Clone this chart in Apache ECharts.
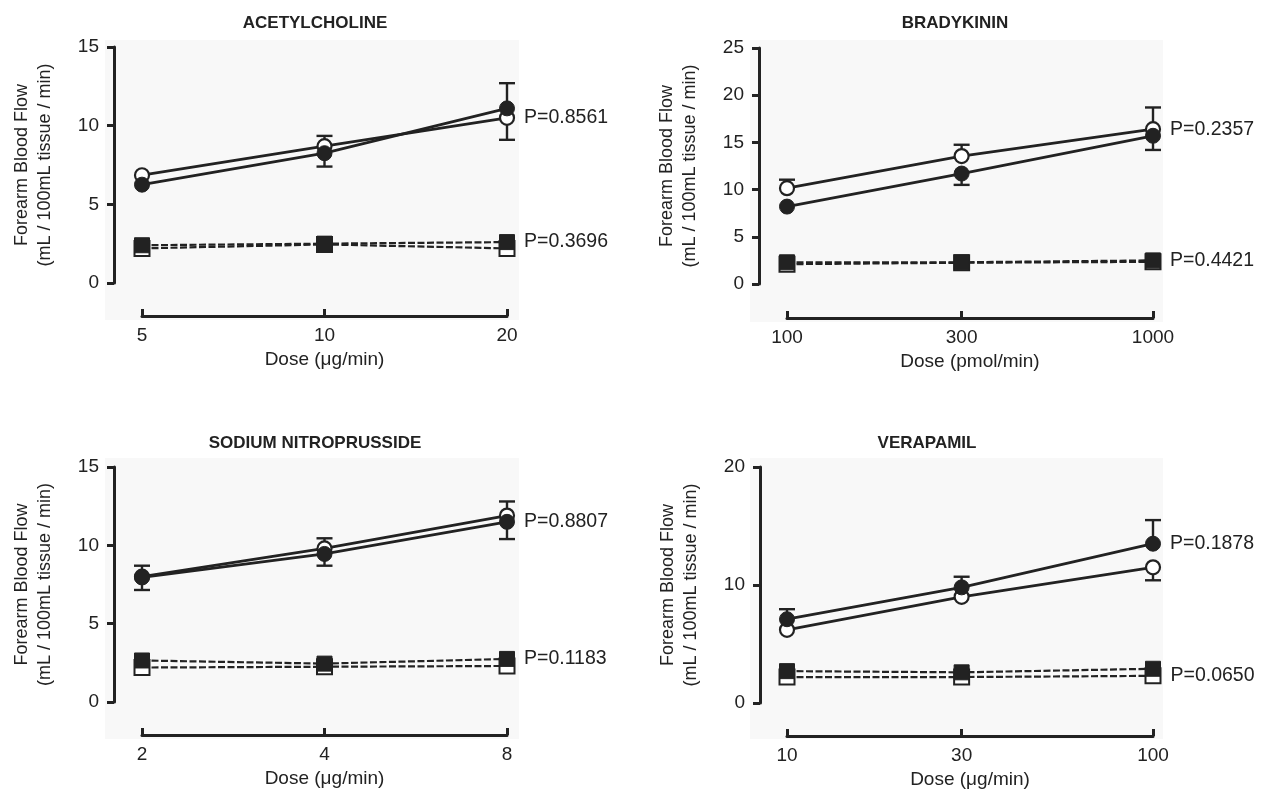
<!DOCTYPE html>
<html><head><meta charset="utf-8">
<script src="https://cdn.jsdelivr.net/npm/echarts@6/dist/echarts.min.js"></script>
<style>html,body{margin:0;padding:0;background:#fff}#c{width:1268px;height:801px}</style>
</head><body><div id="c"></div>
<script>
// ---------- DATA ----------
const titles = ['ACETYLCHOLINE', 'BRADYKININ', 'SODIUM NITROPRUSSIDE', 'VERAPAMIL'];
const xNames = ['Dose (\u03bcg/min)', 'Dose (pmol/min)', 'Dose (\u03bcg/min)', 'Dose (\u03bcg/min)'];
const yName = 'Forearm Blood Flow\n(mL / 100mL tissue / min)';

const achDoses = [5, 10, 20];
const bkDoses = [100, 300, 1000];
const snpDoses = [2, 4, 8];
const verDoses = [10, 30, 100];

const yMax = [15, 25, 15, 20];
const yInterval = [5, 5, 5, 10];

// circles (solid lines)
const achFilledCircle = [6.25, 8.25, 11.1];
const achOpenCircle = [6.85, 8.7, 10.5];
const achFilledErrEnd = [null, 7.4, 12.7];
const achOpenErrEnd = [null, 9.35, 9.1];

const bkFilledCircle = [8.2, 11.7, 15.7];
const bkOpenCircle = [10.15, 13.55, 16.4];
const bkFilledErrEnd = [null, 10.5, 14.2];
const bkOpenErrEnd = [11.05, 14.75, 18.7];

const snpFilledCircle = [7.95, 9.45, 11.5];
const snpOpenCircle = [8.0, 9.8, 11.9];
const snpFilledErrEnd = [7.15, 8.7, 10.4];
const snpOpenErrEnd = [8.7, 10.45, 12.8];

const verFilledCircle = [7.1, 9.8, 13.5];
const verOpenCircle = [6.2, 9.0, 11.5];
const verFilledErrEnd = [7.95, 10.7, 15.5];
const verOpenErrEnd = [null, null, 10.4];

// squares (dashed lines)
const achFilledSquare = [2.4, 2.5, 2.6];
const achOpenSquare = [2.2, 2.45, 2.2];
const bkFilledSquare = [2.3, 2.3, 2.5];
const bkOpenSquare = [2.1, 2.25, 2.35];
const snpFilledSquare = [2.65, 2.45, 2.75];
const snpOpenSquare = [2.2, 2.25, 2.3];
const verFilledSquare = [2.7, 2.6, 2.9];
const verOpenSquare = [2.2, 2.2, 2.3];

// P values
const pCircles = ['P=0.8561', 'P=0.2357', 'P=0.8807', 'P=0.1878'];
const pSquares = ['P=0.3696', 'P=0.4421', 'P=0.1183', 'P=0.0650'];
// which series carries the P label
const pCircleOn = ['open', 'open', 'filled', 'filled'];
const pSquareOn = ['filled', 'filled', 'filled', 'open'];

// ---------- LAYOUT ----------
const panels = [
  {doses: achDoses, fc: achFilledCircle, oc: achOpenCircle, fe: achFilledErrEnd, oe: achOpenErrEnd, fs: achFilledSquare, os: achOpenSquare},
  {doses: bkDoses, fc: bkFilledCircle, oc: bkOpenCircle, fe: bkFilledErrEnd, oe: bkOpenErrEnd, fs: bkFilledSquare, os: bkOpenSquare},
  {doses: snpDoses, fc: snpFilledCircle, oc: snpOpenCircle, fe: snpFilledErrEnd, oe: snpOpenErrEnd, fs: snpFilledSquare, os: snpOpenSquare},
  {doses: verDoses, fc: verFilledCircle, oc: verOpenCircle, fe: verFilledErrEnd, oe: verOpenErrEnd, fs: verFilledSquare, os: verOpenSquare}
];
const gridPos = [
  {left: 142, top: 47, width: 365, height: 236, yOff: 28, xOff: 33, titleX: 310, titleY: 10},
  {left: 787, top: 48, width: 366, height: 236, yOff: 28, xOff: 34, titleX: 950, titleY: 10},
  {left: 142, top: 467, width: 365, height: 235, yOff: 28, xOff: 33, titleX: 310, titleY: 430},
  {left: 787, top: 467, width: 366, height: 236, yOff: 27, xOff: 33, titleX: 922, titleY: 430}
];
const bgRects = [
  {x: 105, y: 40, w: 414, h: 280},
  {x: 750, y: 40, w: 413, h: 282},
  {x: 105, y: 458, w: 414, h: 281},
  {x: 750, y: 458, w: 413, h: 281}
];

const INK = '#222';
const FONT = 'Liberation Sans, Arial, Helvetica, sans-serif';

function errRender(params, api) {
  const x = api.value(0), mean = api.value(1), end = api.value(2);
  if (end == null || isNaN(end)) return null;
  const p0 = api.coord([x, mean]);
  const p1 = api.coord([x, end]);
  const w = 8;
  return {
    type: 'group',
    children: [
      {type: 'line', shape: {x1: p0[0], y1: p0[1], x2: p1[0], y2: p1[1]}, style: {stroke: INK, lineWidth: 2.4}},
      {type: 'line', shape: {x1: p1[0] - w, y1: p1[1], x2: p1[0] + w, y2: p1[1]}, style: {stroke: INK, lineWidth: 2.4}}
    ]
  };
}

const option = {
  animation: false,
  backgroundColor: '#fff',
  textStyle: {fontFamily: FONT},
  title: [], grid: [], xAxis: [], yAxis: [], series: [],
  graphic: bgRects.map(r => ({type: 'rect', z: -10, silent: true, shape: {x: r.x, y: r.y, width: r.w, height: r.h}, style: {fill: '#f8f8f8'}}))
};

panels.forEach((p, i) => {
  const g = gridPos[i];
  option.title.push({
    text: titles[i], left: g.titleX, top: g.titleY, textAlign: 'center',
    textStyle: {fontSize: 17, fontWeight: 'bold', color: INK, fontFamily: FONT}
  });
  option.grid.push({left: g.left, top: g.top, width: g.width, height: g.height, containLabel: false});
  option.xAxis.push({
    gridIndex: i, type: 'log', logBase: 10, min: p.doses[0], max: p.doses[p.doses.length - 1],
    position: 'bottom', offset: g.xOff,
    name: xNames[i], nameLocation: 'middle', nameGap: 34,
    nameTextStyle: {fontSize: 19, color: INK, fontFamily: FONT},
    axisLine: {show: true, onZero: false, lineStyle: {color: INK, width: 3}},
    axisTick: {show: true, inside: true, length: 7, lineStyle: {color: INK, width: 3}, customValues: p.doses},
    axisLabel: {show: true, fontSize: 19, color: INK, margin: 10, customValues: p.doses, formatter: v => String(Math.round(v))},
    minorTick: {show: false}, splitLine: {show: false}, minorSplitLine: {show: false}
  });
  option.yAxis.push({
    gridIndex: i, type: 'value', min: 0, max: yMax[i], interval: yInterval[i],
    position: 'left', offset: g.yOff,
    name: yName, nameLocation: 'middle', nameGap: 57, nameRotate: 90,
    nameTextStyle: {fontSize: 18, color: INK, lineHeight: 23, fontFamily: FONT},
    axisLine: {show: true, lineStyle: {color: INK, width: 3}},
    axisTick: {show: true, inside: false, length: 7, lineStyle: {color: INK, width: 3}},
    axisLabel: {fontSize: 19, color: INK, margin: 15},
    splitLine: {show: false}
  });

  const mk = (vals, labelText) => vals.map((v, k) => {
    const item = {value: [p.doses[k], v]};
    if (labelText && k === vals.length - 1) {
      item.label = {show: true, position: 'right', distance: 9, formatter: labelText,
        fontSize: 19.5, color: INK, fontFamily: FONT};
    }
    return item;
  });

  // dashed square lines: open first, filled on top
  option.series.push({
    type: 'line', xAxisIndex: i, yAxisIndex: i, z: 3,
    data: mk(p.os, pSquareOn[i] === 'open' ? pSquares[i] : null),
    symbol: 'rect', symbolSize: 15,
    lineStyle: {color: INK, width: 2.2, type: [7, 2.5]},
    itemStyle: {color: '#fff', borderColor: INK, borderWidth: 2}
  });
  option.series.push({
    type: 'line', xAxisIndex: i, yAxisIndex: i, z: 4,
    data: mk(p.fs, pSquareOn[i] === 'filled' ? pSquares[i] : null),
    symbol: 'rect', symbolSize: 15,
    lineStyle: {color: INK, width: 2.2, type: [7, 2.5]},
    itemStyle: {color: INK, borderColor: INK, borderWidth: 1}
  });
  // error bars
  option.series.push({
    type: 'custom', xAxisIndex: i, yAxisIndex: i, z: 2,
    renderItem: errRender,
    data: p.doses.map((d, k) => [d, p.oc[k], p.oe[k]])
  });
  option.series.push({
    type: 'custom', xAxisIndex: i, yAxisIndex: i, z: 2,
    renderItem: errRender,
    data: p.doses.map((d, k) => [d, p.fc[k], p.fe[k]])
  });
  // circle lines
  option.series.push({
    type: 'line', xAxisIndex: i, yAxisIndex: i, z: 5,
    data: mk(p.oc, pCircleOn[i] === 'open' ? pCircles[i] : null),
    symbol: 'circle', symbolSize: 14,
    lineStyle: {color: INK, width: 2.8},
    itemStyle: {color: '#fff', borderColor: INK, borderWidth: 2.2}
  });
  option.series.push({
    type: 'line', xAxisIndex: i, yAxisIndex: i, z: 6,
    data: mk(p.fc, pCircleOn[i] === 'filled' ? pCircles[i] : null),
    symbol: 'circle', symbolSize: 15,
    lineStyle: {color: INK, width: 2.8},
    itemStyle: {color: INK, borderColor: INK, borderWidth: 1}
  });
});

const chart = echarts.init(document.getElementById('c'), null, {renderer: 'canvas'});
chart.setOption(option);
</script></body></html>
